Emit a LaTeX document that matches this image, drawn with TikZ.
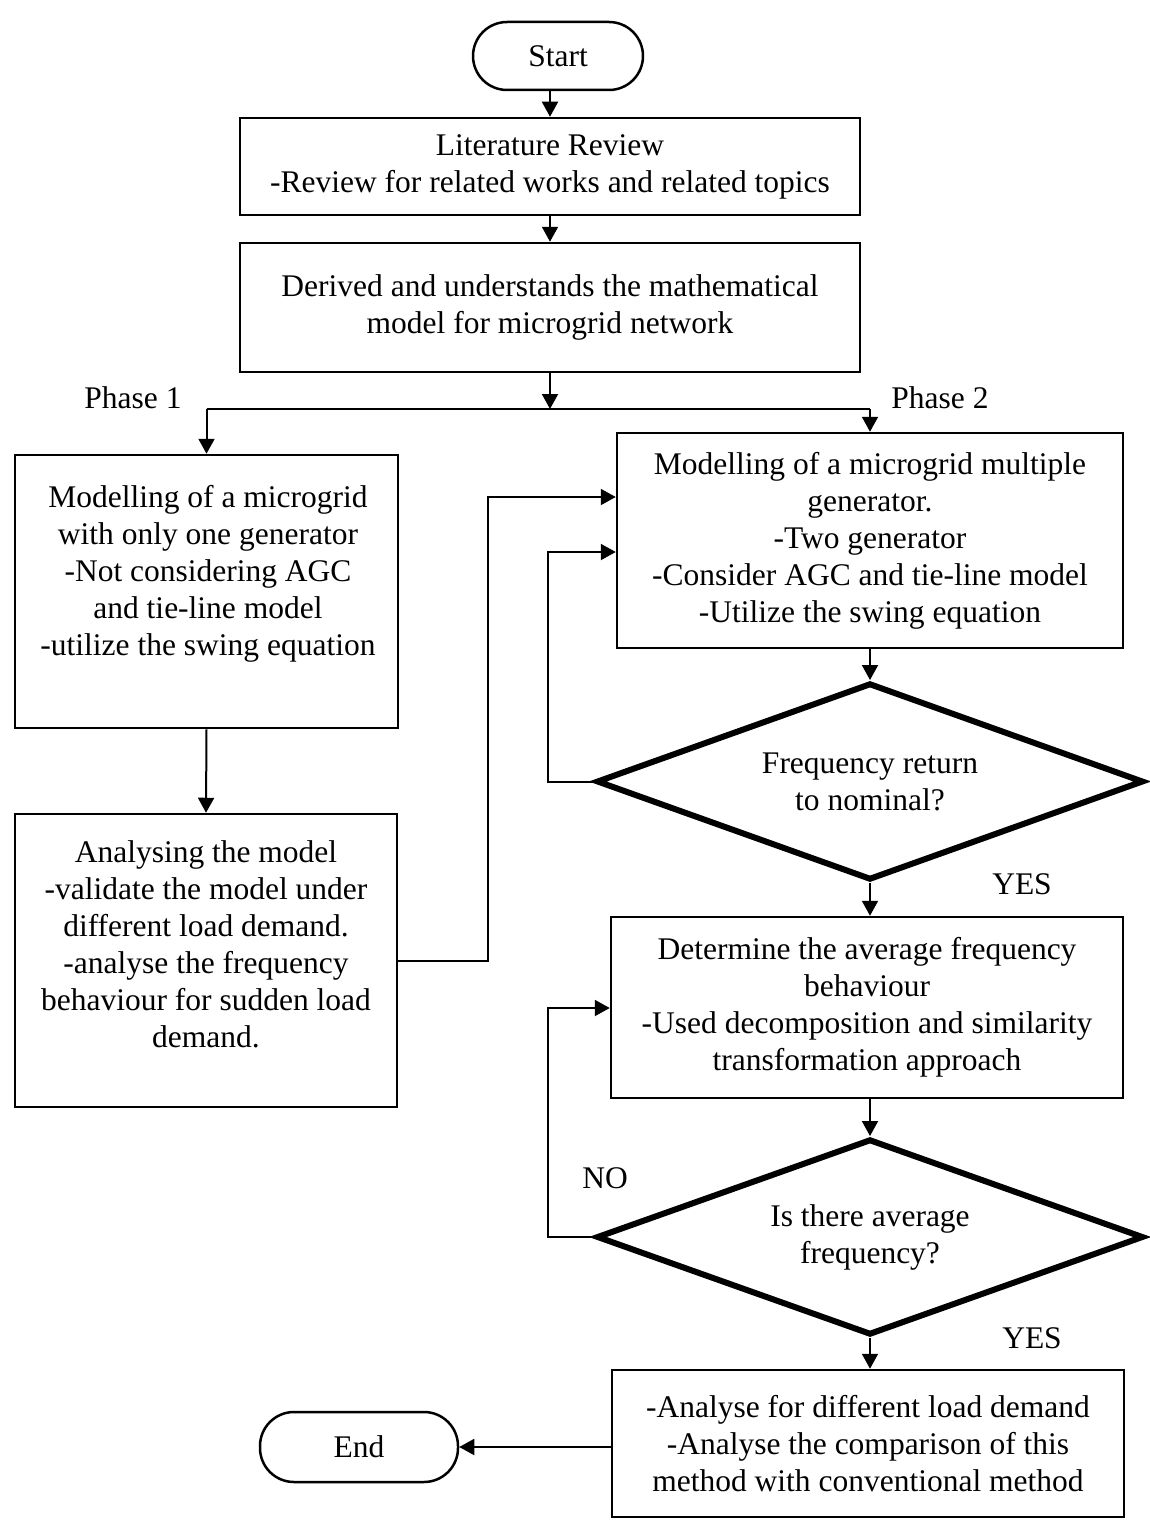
\documentclass[tikz,border=0pt]{standalone}
\usepackage{fontspec}
\setmainfont{Liberation Serif}
\usetikzlibrary{arrows.meta,shapes.geometric}
\newcommand\flowfont{\fontsize{15.75}{18.5}\selectfont}
\begin{document}
\begin{tikzpicture}[x=0.5pt,y=-0.5pt,
  every node/.style={font=\flowfont},
  box/.style={draw, line width=1.25pt, inner sep=0pt, align=center},
  term/.style={box, rounded corners=17pt},
  txt/.style={align=center, inner sep=0pt},
  dia/.style={diamond, draw, line width=3pt, aspect=2.77, inner sep=0pt, align=center},
  arr/.style={-{Triangle[length=7.5pt,width=8pt]}, line width=1pt},
  ln/.style={line width=1pt}]
\useasboundingbox (0,0) rectangle (1150,1520);

\node[term, minimum width=85pt, minimum height=34pt] (start) at (558,56) {Start};
\node[box, minimum width=310pt, minimum height=48.5pt] (lit) at (550,166.5)
  {Literature Review\\-Review for related works and related topics};
\node[box, minimum width=310pt, minimum height=64.5pt] (der) at (550,307.5)
  {Derived and understands the mathematical\\model for microgrid network};

\node[box, minimum width=191.5pt, minimum height=136.5pt] (p1) at (206.5,591.5) {};
\node[txt] (p1t) at (208,574)
  {Modelling of a microgrid\\with only one generator\\-Not considering AGC\\and tie-line model\\-utilize the swing equation};
\node[box, minimum width=191pt, minimum height=146.5pt] (an) at (206,960.5) {};
\node[txt] (ant) at (206,944)
  {Analysing the model\\-validate the model under\\different load demand.\\-analyse the frequency\\behaviour for sudden load\\demand.};

\node[box, minimum width=253pt, minimum height=107.5pt] (p2) at (870,540.5)
  {Modelling of a microgrid multiple\\generator.\\-Two generator\\-Consider AGC and tie-line model\\-Utilize the swing equation};
\node[dia, minimum width=273.5pt, minimum height=98.5pt] (d1) at (870,781.5)
  {Frequency return\\to nominal?};
\node[box, minimum width=256pt, minimum height=90.5pt] (det) at (867,1007.5)
  {Determine the average frequency\\behaviour\\-Used decomposition and similarity\\transformation approach};
\node[dia, minimum width=273.5pt, minimum height=98pt] (d2) at (870,1237)
  {Is there average\\frequency?};
\node[box, minimum width=256pt, minimum height=73.5pt] (fin) at (868,1443.5)
  {-Analyse for different load demand\\-Analyse the comparison of this\\method with conventional method};
\node[term, minimum width=99pt, minimum height=35pt] (end) at (359,1447) {End};

\node[txt] (ph1) at (133,398) {Phase 1};
\node[txt] (ph2) at (940,398) {Phase 2};
\node[txt] (yes1) at (1022,884) {YES};
\node[txt] (no1) at (605,1178) {NO};
\node[txt] (yes2) at (1032,1338) {YES};

\draw[arr] (start.south -| lit.north) -- (lit.north);
\draw[arr] (lit.south) -- (der.south |- der.north);
\coordinate (split) at (550,409);
\draw[arr] (der.south) -- (split);
\draw[ln] (p1.north |- split) -- (p2.north |- split);
\draw[arr] (p1.north |- split) -- (p1.north);
\draw[arr] (p2.north |- split) -- (p2.north);
\draw[arr] (p1.south) -- (an.north);
\coordinate (c1) at (488,497);
\draw[arr] (an.east) -| (c1) -- (c1 -| p2.west);
\draw[arr] (p2.south) -- (d1.north);
\coordinate (c2) at (548,552);
\draw[arr] (d1.west) -| (c2) -- (c2 -| p2.west);
\draw[arr] (d1.south) -- (det.north -| d1.south);
\draw[arr] (det.south -| d2.north) -- (d2.north);
\coordinate (c3) at (548,1008);
\draw[arr] (d2.west) -| (c3) -- (c3 -| det.west);
\draw[arr] (d2.south) -- (fin.north -| d2.south);
\draw[arr] (fin.west |- end.east) -- (end.east);
\end{tikzpicture}
\end{document}
